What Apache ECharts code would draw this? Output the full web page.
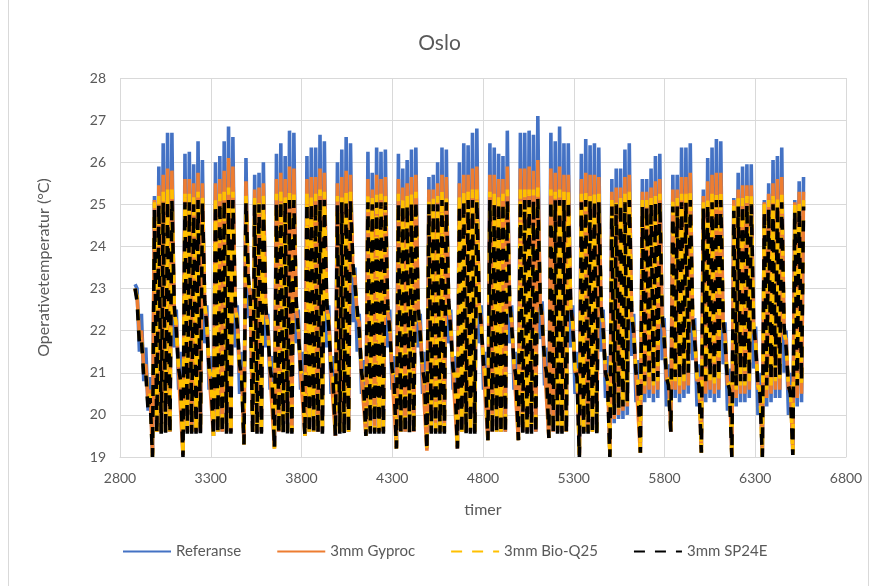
<!DOCTYPE html>
<html>
<head>
<meta charset="utf-8">
<script src="https://cdn.jsdelivr.net/npm/echarts@6/dist/echarts.min.js"></script>
<style>
  html, body { margin: 0; padding: 0; background: #fff; }
  #chart { width: 879px; height: 586px; }
</style>
</head>
<body>
<div id="chart"></div>
<script>
// timer: første dag (1. mai) starter på time 2880, én rad per uke (man-søn)
const startHour = 2880;
const amHour = 3;   // nattlig bunn
const pmHour = 14;  // dagtopp

const seriesNames = ['Referanse', '3mm Gyproc', '3mm Bio-Q25', '3mm SP24E'];
const xTicks = [2800, 3300, 3800, 4300, 4800, 5300, 5800, 6300, 6800];
const yTicks = [19, 20, 21, 22, 23, 24, 25, 26, 27, 28];

// Referanse
const refAm = [
  23.1, 21.5, 20.8, 20.1,
  19.1, 19.6, 19.6, 19.6, 19.6, 21.6, 20.6,
  19.1, 19.6, 19.6, 19.6, 19.6, 21.7, 20.6,
  19.5, 19.6, 19.6, 19.6, 19.6, 21.6, 20.5,
  19.35, 22.3, 19.6, 19.6, 19.6, 21.6, 20.6,
  19.25, 19.6, 19.6, 19.6, 19.6, 21.7, 20.6,
  19.5, 19.6, 19.6, 19.6, 19.6, 21.6, 20.5,
  19.5, 19.6, 19.6, 19.6, 22.2, 21.5, 20.5,
  19.5, 19.6, 19.6, 19.6, 19.6, 21.6, 20.6,
  19.25, 19.6, 19.6, 19.6, 19.6, 21.6, 20.5,
  19.2, 19.6, 19.6, 19.6, 19.6, 21.7, 20.6,
  19.25, 19.6, 19.6, 19.6, 19.6, 21.7, 20.6,
  19.4, 19.6, 19.6, 19.6, 19.6, 21.7, 20.6,
  19.4, 19.6, 19.6, 19.6, 19.6, 21.8, 20.7,
  19.45, 19.6, 19.6, 19.6, 19.6, 21.6, 20.5,
  19.1, 19.6, 19.6, 19.6, 19.6, 21.5, 20.4,
  19.1, 19.8, 19.9, 19.9, 20.0, 21.4, 20.3,
  19.2, 20.3, 20.4, 20.3, 20.4, 21.3, 20.2,
  19.6, 20.4, 20.3, 20.4, 20.5, 21.3, 20.2,
  19.2, 20.3, 20.4, 20.3, 20.4, 21.2, 20.1,
  19.1, 20.2, 20.3, 20.3, 20.4, 21.1, 20.0,
  19.1, 20.2, 20.3, 20.4, 20.4, 21.0, 20.0,
  19.15, 20.2, 20.3
];
const refPm = [
  23.0, 22.4, 21.6, 20.9,
  25.2, 25.9, 26.45, 26.7, 26.7, 22.5, 21.5,
  26.2, 26.25, 25.95, 26.5, 26.05, 22.6, 21.4,
  26.0, 26.15, 26.5, 26.85, 26.6, 22.6, 21.5,
  26.1, 23.0, 25.7, 25.75, 26.0, 22.4, 21.4,
  26.2, 26.45, 26.15, 26.75, 26.7, 22.5, 21.5,
  26.15, 26.35, 26.35, 26.65, 26.5, 22.6, 21.4,
  26.0, 26.3, 26.6, 26.45, 23.5, 22.4, 21.3,
  26.25, 25.75, 26.35, 26.25, 26.3, 22.5, 21.4,
  26.2, 25.85, 26.05, 26.3, 26.35, 22.4, 21.5,
  25.65, 25.7, 26.0, 26.35, 26.3, 22.5, 21.4,
  26.0, 26.45, 26.4, 26.7, 26.8, 22.6, 21.5,
  26.45, 26.35, 26.2, 26.15, 26.75, 22.6, 21.5,
  26.7, 26.7, 26.75, 26.65, 27.1, 22.7, 21.6,
  26.7, 26.5, 26.85, 26.45, 26.45, 22.6, 21.5,
  26.2, 26.55, 26.4, 26.45, 26.35, 22.5, 21.4,
  25.6, 25.85, 25.85, 26.3, 26.45, 22.4, 21.3,
  25.6, 25.6, 25.85, 26.15, 26.2, 22.3, 21.2,
  25.7, 25.7, 26.35, 26.35, 26.45, 22.3, 21.2,
  25.35, 26.1, 26.35, 26.55, 26.5, 22.2, 21.1,
  25.15, 25.75, 25.9, 25.95, 25.95, 22.1, 21.0,
  25.1, 25.5, 26.05, 26.15, 26.35, 22.0, 21.0,
  25.1, 25.55, 25.65
];

// 3mm Gyproc
const gypAm = [
  23.0, 21.9, 21.1, 20.3,
  19.05, 19.6, 19.6, 19.6, 19.6, 22.4, 21.0,
  19.05, 19.6, 19.6, 19.6, 19.6, 22.5, 21.0,
  19.5, 19.6, 19.6, 19.6, 19.6, 22.5, 21.0,
  19.3, 23.1, 19.6, 19.6, 19.6, 22.4, 21.0,
  19.2, 19.6, 19.6, 19.6, 19.6, 22.5, 21.0,
  19.5, 19.6, 19.6, 19.6, 19.6, 22.5, 21.0,
  19.5, 19.6, 19.6, 19.6, 23.4, 22.3, 20.9,
  19.5, 19.6, 19.6, 19.6, 19.6, 22.4, 21.0,
  19.2, 19.6, 19.6, 19.6, 19.6, 22.4, 21.0,
  19.15, 19.6, 19.6, 19.6, 19.6, 22.5, 21.0,
  19.2, 19.6, 19.6, 19.6, 19.6, 22.5, 21.1,
  19.4, 19.6, 19.6, 19.6, 19.6, 22.5, 21.1,
  19.4, 19.6, 19.6, 19.6, 19.6, 22.6, 21.2,
  19.45, 19.6, 19.6, 19.6, 19.6, 22.5, 21.0,
  19.05, 19.6, 19.6, 19.6, 19.6, 22.4, 20.9,
  19.05, 19.9, 20.0, 20.1, 20.2, 22.3, 20.9,
  19.1, 20.5, 20.6, 20.5, 20.6, 22.2, 20.8,
  19.6, 20.6, 20.5, 20.6, 20.7, 22.2, 20.8,
  19.1, 20.5, 20.6, 20.5, 20.6, 22.1, 20.7,
  19.05, 20.4, 20.5, 20.5, 20.6, 22.0, 20.6,
  19.05, 20.4, 20.5, 20.6, 20.6, 21.9, 20.6,
  19.1, 20.4, 20.5
];
const gypPm = [
  22.8, 22.0, 21.2, 20.6,
  25.1, 25.45, 25.7, 25.85, 25.8, 22.2, 21.0,
  25.6, 25.6, 25.5, 25.75, 25.5, 22.3, 21.0,
  25.5, 25.6, 25.8, 26.1, 25.9, 22.3, 21.1,
  25.55, 22.9, 25.35, 25.4, 25.5, 22.2, 21.0,
  25.6, 25.75, 25.6, 25.9, 25.85, 22.2, 21.0,
  25.6, 25.65, 25.65, 25.85, 25.75, 22.3, 21.0,
  25.5, 25.65, 25.8, 25.7, 23.3, 22.2, 20.9,
  25.6, 25.35, 25.7, 25.6, 25.65, 22.2, 21.0,
  25.6, 25.4, 25.5, 25.65, 25.7, 22.1, 21.0,
  25.35, 25.35, 25.5, 25.7, 25.65, 22.2, 21.0,
  25.5, 25.7, 25.7, 25.85, 25.9, 22.3, 21.1,
  25.7, 25.7, 25.6, 25.6, 25.9, 22.3, 21.1,
  25.85, 25.85, 25.9, 25.8, 26.05, 22.4, 21.2,
  25.85, 25.75, 25.9, 25.7, 25.7, 22.3, 21.1,
  25.6, 25.75, 25.7, 25.7, 25.65, 22.2, 21.0,
  25.3, 25.4, 25.4, 25.65, 25.7, 22.1, 20.9,
  25.3, 25.3, 25.4, 25.55, 25.6, 22.0, 20.9,
  25.35, 25.35, 25.65, 25.65, 25.75, 22.0, 20.9,
  25.2, 25.55, 25.7, 25.75, 25.75, 21.9, 20.8,
  25.1, 25.35, 25.45, 25.45, 25.45, 21.8, 20.7,
  25.05, 25.25, 25.5, 25.6, 25.65, 21.8, 20.7,
  25.05, 25.3, 25.3
];

// 3mm Bio-Q25
const bioAm = [
  23.0, 21.8, 21.0, 20.2,
  19.0, 19.6, 19.6, 19.6, 19.6, 22.5, 21.1,
  19.0, 19.6, 19.6, 19.6, 19.6, 22.6, 21.1,
  19.5, 19.6, 19.6, 19.6, 19.6, 22.6, 21.1,
  19.3, 23.2, 19.6, 19.6, 19.6, 22.5, 21.1,
  19.2, 19.6, 19.6, 19.6, 19.6, 22.6, 21.1,
  19.5, 19.6, 19.6, 19.6, 19.6, 22.6, 21.1,
  19.5, 19.6, 19.6, 19.6, 23.5, 22.4, 21.0,
  19.5, 19.6, 19.6, 19.6, 19.6, 22.5, 21.1,
  19.2, 19.6, 19.6, 19.6, 19.6, 22.5, 21.1,
  19.15, 19.6, 19.6, 19.6, 19.6, 22.6, 21.1,
  19.2, 19.6, 19.6, 19.6, 19.6, 22.6, 21.2,
  19.4, 19.6, 19.6, 19.6, 19.6, 22.6, 21.2,
  19.4, 19.6, 19.6, 19.6, 19.6, 22.7, 21.3,
  19.45, 19.6, 19.6, 19.6, 19.6, 22.6, 21.1,
  19.0, 19.6, 19.6, 19.6, 19.6, 22.5, 21.0,
  19.0, 20.0, 20.1, 20.2, 20.3, 22.4, 21.0,
  19.1, 20.7, 20.8, 20.7, 20.8, 22.3, 20.9,
  19.6, 20.8, 20.7, 20.8, 20.9, 22.3, 20.9,
  19.1, 20.7, 20.8, 20.7, 20.8, 22.2, 20.8,
  19.0, 20.6, 20.7, 20.7, 20.8, 22.1, 20.7,
  19.0, 20.6, 20.7, 20.8, 20.8, 22.0, 20.7,
  19.05, 20.6, 20.7
];
const bioPm = [
  22.8, 21.9, 21.1, 20.5,
  25.05, 25.2, 25.3, 25.35, 25.35, 22.1, 20.9,
  25.25, 25.25, 25.2, 25.3, 25.2, 22.2, 20.9,
  25.2, 25.25, 25.3, 25.4, 25.3, 22.2, 21.0,
  25.2, 22.8, 25.15, 25.15, 25.2, 22.1, 20.9,
  25.25, 25.3, 25.25, 25.35, 25.35, 22.1, 20.9,
  25.25, 25.25, 25.25, 25.35, 25.3, 22.2, 20.9,
  25.2, 25.25, 25.3, 25.3, 23.2, 22.1, 20.8,
  25.25, 25.15, 25.25, 25.25, 25.25, 22.1, 20.9,
  25.25, 25.15, 25.2, 25.25, 25.3, 22.0, 20.9,
  25.15, 25.15, 25.2, 25.3, 25.25, 22.1, 20.9,
  25.2, 25.3, 25.3, 25.35, 25.35, 22.2, 21.0,
  25.3, 25.25, 25.25, 25.25, 25.35, 22.2, 21.0,
  25.35, 25.35, 25.35, 25.35, 25.4, 22.3, 21.1,
  25.35, 25.3, 25.35, 25.3, 25.3, 22.2, 21.0,
  25.25, 25.3, 25.3, 25.3, 25.25, 22.1, 20.9,
  25.1, 25.15, 25.15, 25.25, 25.3, 22.0, 20.8,
  25.1, 25.1, 25.15, 25.2, 25.25, 21.9, 20.8,
  25.15, 25.15, 25.25, 25.25, 25.3, 21.9, 20.8,
  25.05, 25.2, 25.25, 25.3, 25.3, 21.8, 20.7,
  25.0, 25.15, 25.15, 25.2, 25.2, 21.7, 20.6,
  25.0, 25.1, 25.2, 25.2, 25.25, 21.7, 20.6,
  25.0, 25.1, 25.1
];

// 3mm SP24E
const spAm = [
  23.0, 21.7, 20.9, 20.1,
  19.0, 19.55, 19.55, 19.55, 19.55, 22.6, 21.1,
  19.0, 19.55, 19.55, 19.55, 19.55, 22.7, 21.1,
  19.5, 19.55, 19.55, 19.55, 19.55, 22.7, 21.2,
  19.3, 23.3, 19.55, 19.55, 19.55, 22.6, 21.1,
  19.2, 19.55, 19.55, 19.55, 19.55, 22.7, 21.1,
  19.5, 19.55, 19.55, 19.55, 19.55, 22.7, 21.1,
  19.5, 19.55, 19.55, 19.55, 23.6, 22.5, 21.0,
  19.5, 19.55, 19.55, 19.55, 19.55, 22.6, 21.1,
  19.2, 19.55, 19.55, 19.55, 19.55, 22.6, 21.1,
  19.15, 19.55, 19.55, 19.55, 19.55, 22.7, 21.1,
  19.2, 19.55, 19.55, 19.55, 19.55, 22.7, 21.2,
  19.4, 19.55, 19.55, 19.55, 19.55, 22.7, 21.2,
  19.4, 19.55, 19.55, 19.55, 19.55, 22.8, 21.3,
  19.45, 19.55, 19.55, 19.55, 19.55, 22.7, 21.1,
  19.0, 19.55, 19.55, 19.55, 19.55, 22.6, 21.0,
  19.0, 20.0, 20.1, 20.2, 20.3, 22.5, 21.0,
  19.1, 20.8, 20.9, 20.8, 20.9, 22.4, 20.9,
  19.6, 20.9, 20.8, 20.9, 21.0, 22.4, 20.9,
  19.1, 20.8, 20.9, 20.8, 20.9, 22.3, 20.8,
  19.0, 20.7, 20.8, 20.8, 20.9, 22.2, 20.7,
  19.0, 20.7, 20.8, 20.9, 20.9, 22.1, 20.7,
  19.05, 20.7, 20.8
];
const spPm = [
  22.7, 21.8, 21.0, 20.4,
  24.9, 25.0, 25.05, 25.1, 25.1, 22.0, 20.8,
  25.05, 25.05, 25.0, 25.1, 25.05, 22.1, 20.8,
  25.0, 25.05, 25.1, 25.1, 25.1, 22.1, 20.9,
  25.05, 22.7, 25.0, 25.0, 25.0, 22.0, 20.8,
  25.05, 25.1, 25.05, 25.1, 25.1, 22.0, 20.8,
  25.05, 25.05, 25.05, 25.1, 25.1, 22.1, 20.8,
  25.0, 25.05, 25.1, 25.1, 23.1, 22.0, 20.7,
  25.05, 25.0, 25.05, 25.05, 25.05, 22.0, 20.8,
  25.05, 25.0, 25.0, 25.05, 25.1, 21.9, 20.8,
  25.0, 25.0, 25.0, 25.1, 25.05, 22.0, 20.8,
  25.0, 25.1, 25.1, 25.1, 25.1, 22.1, 20.9,
  25.1, 25.05, 25.05, 25.05, 25.1, 22.1, 20.9,
  25.1, 25.1, 25.1, 25.1, 25.15, 22.2, 21.0,
  25.1, 25.1, 25.1, 25.1, 25.1, 22.1, 20.9,
  25.05, 25.1, 25.1, 25.1, 25.05, 22.0, 20.8,
  24.95, 25.0, 25.0, 25.05, 25.1, 21.9, 20.7,
  24.95, 24.95, 25.0, 25.05, 25.05, 21.8, 20.7,
  24.95, 24.95, 25.05, 25.05, 25.1, 21.8, 20.7,
  24.9, 25.0, 25.05, 25.1, 25.1, 21.7, 20.6,
  24.85, 24.95, 25.0, 25.0, 25.0, 21.6, 20.5,
  24.85, 24.9, 25.0, 25.0, 25.05, 21.6, 20.5,
  24.85, 24.9, 24.95
];

// bunn og topp hver dag -> [time, temperatur]
function dailyPoints(am, pm) {
  const pts = [];
  for (let d = 0; d < am.length; d++) {
    pts.push([startHour + d * 24 + amHour, am[d]]);
    pts.push([startHour + d * 24 + pmHour, pm[d]]);
  }
  return pts;
}

const textColor = '#595959';
const gridColor = '#d9d9d9';
const font = 'Lato, "Liberation Sans", sans-serif';
const lineW = 3.6;

let chart = echarts.init(document.getElementById('chart'), null, { renderer: 'canvas' });
let option = {
  animation: false,
  backgroundColor: '#fff',
  textStyle: { fontFamily: font },
  title: {
    text: 'Oslo',
    left: 'center',
    top: 28,
    textStyle: { color: textColor, fontSize: 21, fontWeight: 'normal', fontFamily: font }
  },
  graphic: [{
    type: 'rect',
    shape: { x: 8.5, y: -10, width: 860, height: 610 },
    style: { fill: 'none', stroke: gridColor, lineWidth: 1 },
    silent: true
  }],
  legend: {
    top: 539,
    left: 117,
    itemWidth: 48,
    itemHeight: 12,
    itemGap: 35,
    itemStyle: { opacity: 0 },
    textStyle: { color: textColor, fontSize: 15, fontFamily: font },
    data: seriesNames
  },
  grid: { left: 120, right: 33, top: 78, bottom: 129 },
  xAxis: {
    type: 'value',
    min: xTicks[0],
    max: xTicks[xTicks.length - 1],
    interval: xTicks[1] - xTicks[0],
    name: 'timer',
    nameLocation: 'middle',
    nameGap: 45,
    nameTextStyle: { color: textColor, fontSize: 16, fontFamily: font },
    axisLine: { show: true, lineStyle: { color: gridColor } },
    axisTick: { show: false },
    axisLabel: { color: textColor, fontSize: 14, margin: 14, fontFamily: font, formatter: v => String(v) },
    splitLine: { show: true, lineStyle: { color: gridColor } }
  },
  yAxis: {
    type: 'value',
    min: yTicks[0],
    max: yTicks[yTicks.length - 1],
    interval: yTicks[1] - yTicks[0],
    name: 'Operativetemperatur (°C)',
    nameLocation: 'middle',
    nameGap: 68,
    nameTextStyle: { color: textColor, fontSize: 16, fontFamily: font },
    axisLine: { show: false },
    axisTick: { show: false },
    axisLabel: { color: textColor, fontSize: 14, margin: 14, fontFamily: font },
    splitLine: { show: true, lineStyle: { color: gridColor } }
  },
  series: [
    {
      name: seriesNames[0], type: 'line', symbol: 'none',
      data: dailyPoints(refAm, refPm),
      lineStyle: { color: '#4472C4', width: lineW },
      itemStyle: { color: '#4472C4' }
    },
    {
      name: seriesNames[1], type: 'line', symbol: 'none',
      data: dailyPoints(gypAm, gypPm),
      lineStyle: { color: '#ED7D31', width: lineW },
      itemStyle: { color: '#ED7D31' }
    },
    {
      name: seriesNames[2], type: 'line', symbol: 'none',
      data: dailyPoints(bioAm, bioPm),
      lineStyle: { color: '#FFC000', width: lineW, type: [11, 10] },
      itemStyle: { color: '#FFC000' }
    },
    {
      name: seriesNames[3], type: 'line', symbol: 'none',
      data: dailyPoints(spAm, spPm),
      lineStyle: { color: '#000000', width: lineW, type: [11, 10] },
      itemStyle: { color: '#000000' }
    }
  ]
};
chart.setOption(option);
</script>
</body>
</html>
